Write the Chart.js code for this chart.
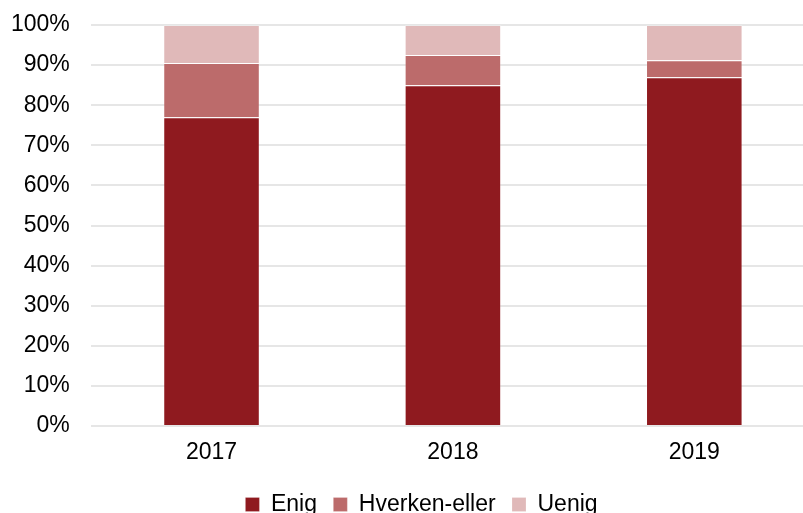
<!DOCTYPE html>
<html>
<head>
<meta charset="utf-8">
<script src="https://cdn.jsdelivr.net/npm/chart.js@4"></script>
<style>
    html, body { margin: 0; padding: 0; background: #fff; overflow: hidden; }
    .chart-wrap { width: 815px; height: 526px; position: relative; }
</style>
</head>
<body>
<div class="chart-wrap"><canvas id="surveyChart"></canvas></div>
<script>
// Data (percent of answers)
const years = ['2017', '2018', '2019'];
const enig = [77, 85, 87];
const hverkenEller = [13.5, 7.5, 4.2];
const uenig = [9.5, 7.5, 8.8];
const yTicks = [0, 10, 20, 30, 40, 50, 60, 70, 80, 90, 100];

document.addEventListener('DOMContentLoaded', function () {
    const ctx = document.getElementById('surveyChart');
    const fontFamily = 'Liberation Sans, Arial, sans-serif';

    function makeSet(label, data, color) {
        return {
            label: label,
            data: data,
            backgroundColor: color,
            borderColor: 'rgba(255,255,255,0.2)',
            borderWidth: 1,
            barPercentage: 0.4,
            categoryPercentage: 1.0
        };
    }

    // nudge the legend a bit to the right, like the original
    const legendShift = {
        id: 'legendShift',
        afterLayout: function (chart) {
            if (chart.legend) {
                chart.legend.left += 19;
                chart.legend.right += 19;
            }
        }
    };

    new Chart(ctx, {
        type: 'bar',
        data: {
            labels: years,
            datasets: [
                makeSet('Enig', enig, '#8F1A1F'),
                makeSet('Hverken-eller', hverkenEller, '#BC6B6B'),
                makeSet('Uenig', uenig, '#E0B9B9')
            ]
        },
        plugins: [legendShift],
        options: {
            responsive: true,
            maintainAspectRatio: false,
            animation: false,
            layout: {
                padding: { top: 0, left: -10, right: 0, bottom: 0 }
            },
            plugins: {
                legend: {
                    position: 'bottom',
                    labels: {
                        boxWidth: 14,
                        boxHeight: 14,
                        padding: 10,
                        color: '#000',
                        font: { family: fontFamily, size: 23 },
                        generateLabels: function (chart) {
                            const items = Chart.defaults.plugins.legend.labels.generateLabels(chart);
                            items.forEach((item, i) => {
                                if (i < items.length - 1) item.text = item.text + ' ';
                            });
                            return items;
                        }
                    }
                },
                tooltip: { enabled: false }
            },
            scales: {
                x: {
                    stacked: true,
                    afterFit: function (axis) {
                        axis.height = 57;
                    },
                    grid: { display: false, drawTicks: false },
                    border: { display: false },
                    ticks: {
                        color: '#000',
                        padding: 13,
                        font: { family: fontFamily, size: 23 }
                    }
                },
                y: {
                    stacked: true,
                    min: 0,
                    max: 100,
                    afterBuildTicks: function (axis) {
                        axis.ticks = yTicks.map(v => ({ value: v }));
                    },
                    afterFit: function (axis) {
                        // the tick padding would otherwise push the plot down
                        axis.paddingTop = 25;
                    },
                    grid: { color: '#E6E6E6', lineWidth: 2, drawTicks: false },
                    border: { display: false },
                    ticks: {
                        color: '#000',
                        padding: 21,
                        font: { family: fontFamily, size: 23 },
                        callback: function (value) { return value + '%'; }
                    }
                }
            }
        }
    });
});
</script>
</body>
</html>
